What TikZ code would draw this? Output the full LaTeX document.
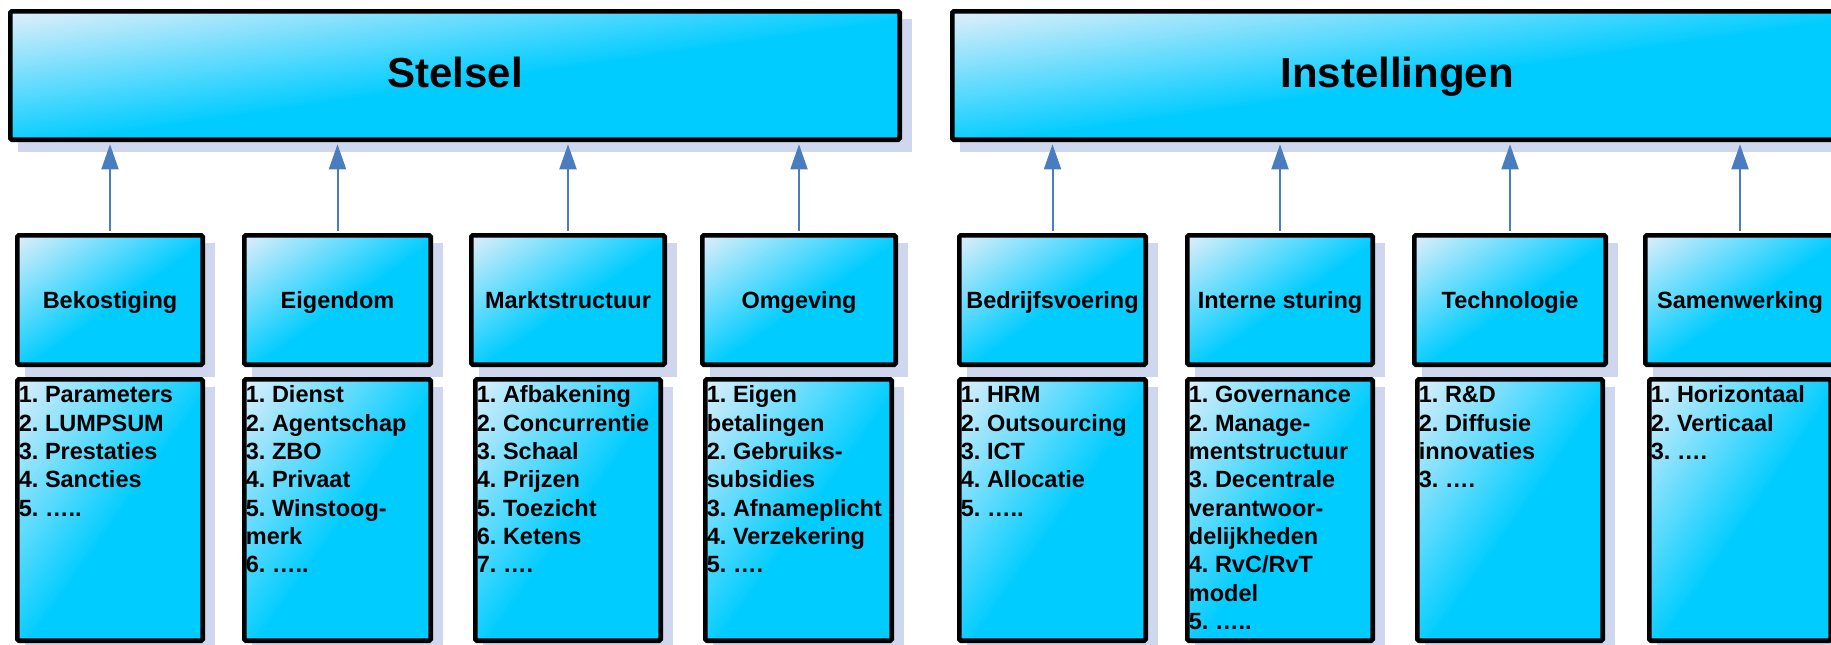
\documentclass[tikz,border=0pt]{standalone}
\usepackage{fontspec}
\setmainfont{Liberation Sans}
\usetikzlibrary{arrows.meta}
\frenchspacing
\definecolor{shadowc}{RGB}{206,215,238}
\definecolor{arrowc}{RGB}{74,124,192}
\definecolor{cyanc}{RGB}{0,204,255}
\definecolor{lightc}{RGB}{224,239,250}
\newcommand\bw{4.6}
% name, x1, y1, x2, y2 (outer edges), extra style, text
% fill: light at the top-left corner, turning to cyan along the diagonal (drawn as nested triangles)
\newcommand\mkbox[7]{%
  \fill[shadowc] ({#2+10},{#3+10}) rectangle ({#4+10},{#5+10});
  \pgfmathsetmacro\bxa{#2+\bw/2}%
  \pgfmathsetmacro\bya{#3+\bw/2}%
  \pgfmathsetmacro\bww{#4-#2-\bw}%
  \pgfmathsetmacro\bhh{#5-#3-\bw}%
  \begin{scope}
    \clip (\bxa,\bya) rectangle ++(\bww,\bhh);
    \fill[cyanc] (\bxa,\bya) rectangle ++(\bww,\bhh);
    \foreach \i in {0,...,47}{%
      \pgfmathsetmacro\bcc{1.08*(48-\i)/48}%
      \pgfmathsetmacro\bpp{100*(47.5-\i)/48}%
      \fill[cyanc!\bpp!lightc] (\bxa,\bya) -- ++({\bcc*\bww},0) -- (\bxa,{\bya+\bcc*\bhh}) -- cycle;
    }
  \end{scope}
  \node[box,#6,minimum width=\bww,minimum height=\bhh] (#1) at ({\bxa+\bww/2},{\bya+\bhh/2}) {#7};
}
\tikzset{
  box/.style={draw=black, line width=\bw pt, rounded corners=1.5pt, inner sep=0pt},
  titletxt/.style={font=\fontsize{42}{50}\selectfont\bfseries, text height=30pt, text depth=6pt},
  hdrtxt/.style={font=\fontsize{23.5}{28}\selectfont\bfseries, text height=16.8pt, text depth=0pt},
  listtxt/.style={anchor=north west, inner sep=0pt, align=left, font=\fontsize{23.5}{28.3}\selectfont\bfseries},
  arr/.style={draw=arrowc, line width=2pt, shorten <=2.3pt, shorten >=2.3pt, -{Triangle[length=25pt,width=17pt]}},
}
\begin{document}
\begin{tikzpicture}[x=1pt,y=-1pt]
\useasboundingbox (0,0) rectangle (1831,645);
\clip (0,0) rectangle (1831,645);
% top boxes
\mkbox{stelsel}{8}{9}{902}{142}{titletxt}{Stelsel}
\mkbox{inst}{950}{9}{1844}{142}{titletxt}{Instellingen}
% header boxes
\mkbox{bek}{15}{233}{205}{367}{hdrtxt}{Bekostiging}
\mkbox{eig}{242}{233}{433}{367}{hdrtxt}{Eigendom}
\mkbox{mkt}{469}{233}{667}{367}{hdrtxt}{Marktstructuur}
\mkbox{omg}{700}{233}{898}{367}{hdrtxt}{Omgeving}
\mkbox{bed}{957}{233}{1148}{367}{hdrtxt}{Bedrijfsvoering}
\mkbox{int}{1185}{233}{1375}{367}{hdrtxt}{Interne sturing}
\mkbox{tec}{1412}{233}{1608}{367}{hdrtxt}{Technologie}
\mkbox{sam}{1643}{233}{1837}{367}{hdrtxt}{Samenwerking}
% list boxes
\mkbox{bekL}{15}{377}{205}{643}{}{}
\mkbox{eigL}{242}{377}{433}{643}{}{}
\mkbox{mktL}{473}{377}{663}{643}{}{}
\mkbox{omgL}{703}{377}{894}{643}{}{}
\mkbox{bedL}{957}{377}{1148}{643}{}{}
\mkbox{intL}{1185}{377}{1375}{643}{}{}
\mkbox{tecL}{1415}{377}{1605}{643}{}{}
\mkbox{samL}{1647}{377}{1833}{643}{}{}
% list texts
\node[listtxt] (bekT) at ([shift={(3.7,7.7)}]bekL.north west) {\rule{0pt}{18pt}1. Parameters\\2. LUMPSUM\\3. Prestaties\\4. Sancties\\5. …..};
\node[listtxt] (eigT) at ([shift={(3.7,7.7)}]eigL.north west) {\rule{0pt}{18pt}1. Dienst\\2. Agentschap\\3. ZBO\\4. Privaat\\5. Winstoog-\\merk\\6. …..};
\node[listtxt] (mktT) at ([shift={(3.7,7.7)}]mktL.north west) {\rule{0pt}{18pt}1. Afbakening\\2. Concurrentie\\3. Schaal\\4. Prijzen\\5. Toezicht\\6. Ketens\\7. ….};
\node[listtxt] (omgT) at ([shift={(3.7,7.7)}]omgL.north west) {\rule{0pt}{18pt}1. Eigen\\betalingen\\2. Gebruiks-\\subsidies\\3. Afnameplicht\\4. Verzekering\\5. ….};
\node[listtxt] (bedT) at ([shift={(3.7,7.7)}]bedL.north west) {\rule{0pt}{18pt}1. HRM\\2. Outsourcing\\3. ICT\\4. Allocatie\\5. …..};
\node[listtxt] (intT) at ([shift={(3.7,7.7)}]intL.north west) {\rule{0pt}{18pt}1. Governance\\2. Manage-\\mentstructuur\\3. Decentrale\\verantwoor-\\delijkheden\\4. RvC/RvT\\model\\5. …..};
\node[listtxt] (tecT) at ([shift={(3.7,7.7)}]tecL.north west) {\rule{0pt}{18pt}1. R\&D\\2. Diffusie\\innovaties\\3. ….};
\node[listtxt] (samT) at ([shift={(3.7,7.7)}]samL.north west) {\rule{0pt}{18pt}1. Horizontaal\\2. Verticaal\\3. ….};
% arrows
\foreach \n in {bek,eig,mkt,omg}{\draw[arr] (\n.north) -- (\n.north |- stelsel.south);}
\foreach \n in {bed,int,tec,sam}{\draw[arr] (\n.north) -- (\n.north |- inst.south);}
\end{tikzpicture}
\end{document}
